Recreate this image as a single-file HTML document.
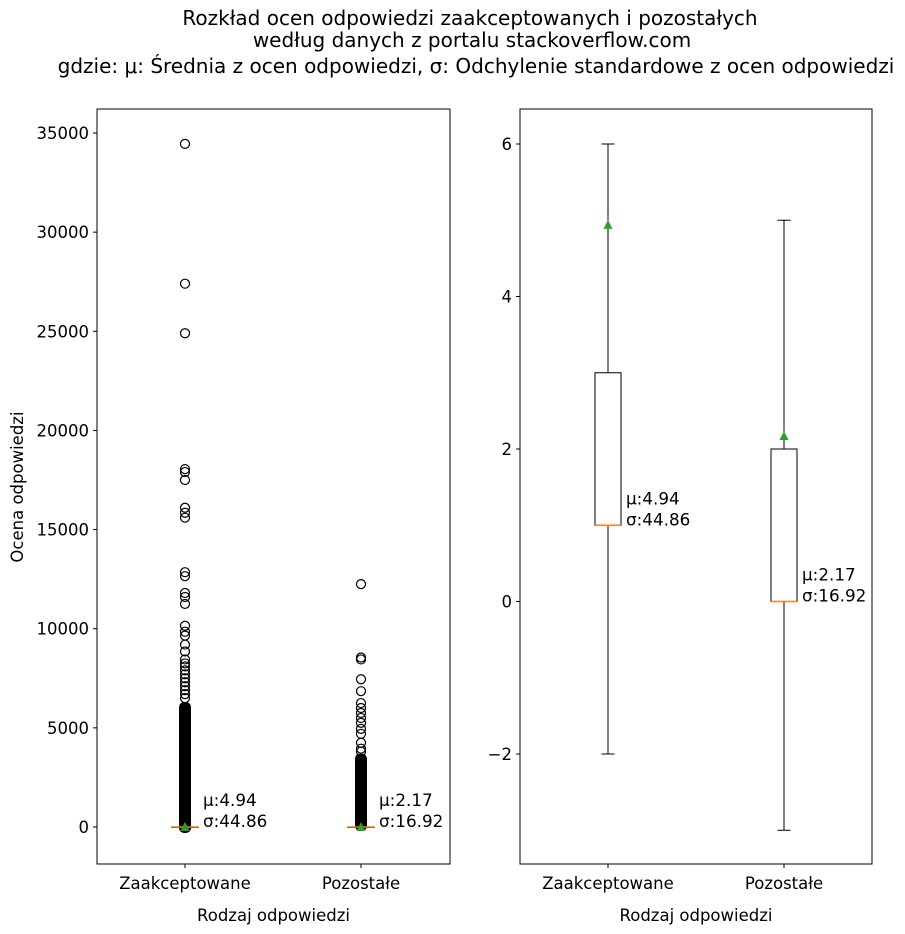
<!DOCTYPE html>
<html><head><meta charset="utf-8"><style>
html,body{margin:0;padding:0;background:#fff;}
svg{display:block;font-family:"DejaVu Sans","Liberation Sans",sans-serif;}
</style></head><body>
<svg id="chart" width="905" height="934" viewBox="0 0 905 934">
<g font-size="20" text-anchor="middle" fill="#000">
<text x="470" y="25">Rozkład ocen odpowiedzi zaakceptowanych i pozostałych</text>
<text x="472" y="47">według danych z portalu stackoverflow.com</text>
<text x="476" y="73">gdzie: μ: Średnia z ocen odpowiedzi, σ: Odchylenie standardowe z ocen odpowiedzi</text>
</g>
</svg>
<script>
const categories = ["Zaakceptowane","Pozostałe"];
const leftTicks = [0,5000,10000,15000,20000,25000,30000,35000];
const rightTicks = [-2,0,2,4,6];
const q1 = [1,0];
const q3 = [3,2];
const medians = [1,0];
const whiskLo = [-2,-3];
const whiskHi = [6,5];
const means = [4.94,2.17];
const stds = [44.86,16.92];
const outliersA = [34450,27400,24900,18050,17900,17500,16100,15850,15600,12850,12650,11800,11600,11250,10150,9850,9650,9200,8850,8450,8250,8100,7900,7700,7500,7300,7100,6900,6700,6500];
const outliersB = [12250,8550,8450,7450,6850,6250,6000,5750,5500,5250,4950,4700,4250,3950,3800];
const denseLo = [-300,-200];
const denseHi = [6300,3700];

const svg = document.getElementById('chart');
const NS = 'http://www.w3.org/2000/svg';
function mk(tag, attrs, parent){const e=document.createElementNS(NS,tag);for(const k in attrs)e.setAttribute(k,attrs[k]);(parent||svg).appendChild(e);return e;}

const L = {x0:97,x1:450,y0:109,y1:864};
const R = {x0:520,x1:872,y0:109,y1:864};
const yL = v => 827 - v*(694/35000);
const yR = v => 601.5 - v*76.25;
const xL = i => [185,361][i];
const xR = i => [608,784][i];

function axes(P, ticks, yf, xf, prefix){
  const g = mk('g',{});
  
  
  const f = mk('rect',{x:P.x0,y:P.y0,width:P.x1-P.x0,height:P.y1-P.y0,fill:'none',stroke:'#000','stroke-width':1},g);
  
  
  ticks.forEach(t=>{
    const y=yf(t);
    mk('line',{x1:P.x0-4,x2:P.x0,y1:y,y2:y,stroke:'#000'},g);
    const tx=mk('text',{x:P.x0-8,y:y+6,'font-size':16.5,'text-anchor':'end'},g);
    tx.textContent = t<0 ? '−'+Math.abs(t) : String(t);
    
    
  });
  categories.forEach((c,i)=>{
    const x=xf(i);
    mk('line',{x1:x,x2:x,y1:P.y1,y2:P.y1+4,stroke:'#000'},g);
    const tx=mk('text',{x:x,y:P.y1+25,'font-size':16.5,'text-anchor':'middle'},g);
    tx.textContent=c;
    
    
  });
  const xt=mk('text',{x:(P.x0+P.x1)/2,y:P.y1+57,'font-size':16.5,'text-anchor':'middle'},g);
  xt.textContent='Rodzaj odpowiedzi';
  
  
  return g;
}

function box(i, yf, xf, prefix, drawOutliers){
  const g=mk('g',{});
  
  
  const x=xf(i), hw=13, cw=6.5;
  if(drawOutliers){
    const dr=mk('rect',{x:x-6,y:yf(denseHi[i]),width:12,height:yf(denseLo[i])-yf(denseHi[i]),fill:'#000',rx:5},g);
    
    
    const arr = i===0?outliersA:outliersB;
    arr.forEach(v=>{
      const c=mk('circle',{cx:x,cy:yf(v),r:4.5,fill:'none',stroke:'#000','stroke-width':1.2},g);
      
      
    });
  }
  mk('line',{x1:x,x2:x,y1:yf(whiskHi[i]),y2:yf(q3[i]),stroke:'#000'},g);
  mk('line',{x1:x,x2:x,y1:yf(q1[i]),y2:yf(whiskLo[i]),stroke:'#000'},g);
  mk('line',{x1:x-cw,x2:x+cw,y1:yf(whiskHi[i]),y2:yf(whiskHi[i]),stroke:'#000'},g);
  mk('line',{x1:x-cw,x2:x+cw,y1:yf(whiskLo[i]),y2:yf(whiskLo[i]),stroke:'#000'},g);
  mk('rect',{x:x-hw,y:yf(q3[i]),width:2*hw,height:Math.max(0.5,yf(q1[i])-yf(q3[i])),fill:'none',stroke:'#000'},g);
  const m=mk('line',{x1:x-hw,x2:x+hw,y1:yf(medians[i]),y2:yf(medians[i]),stroke:'#ff7f0e','stroke-width':1.5},g);
  
  
  const my=yf(means[i]);
  const t=mk('polygon',{points:`${x},${my-5} ${x-4.5},${my+4} ${x+4.5},${my+4}`,fill:'#2ca02c'},g);
  
  
  const ty=yf(medians[i]);
  const a=mk('text',{x:x+18,y:ty-21,'font-size':16.8},g);
  a.textContent='μ:'+means[i].toFixed(2);
  
  
  const b=mk('text',{x:x+18,y:ty,'font-size':16.8},g);
  b.textContent='σ:'+stds[i].toFixed(2);
  
  
}

axes(L,leftTicks,yL,xL,'left');
axes(R,rightTicks,yR,xR,'right');
const yt=mk('text',{x:0,y:0,'font-size':16.5,'text-anchor':'middle',transform:'translate(23,487) rotate(-90)'});
yt.textContent='Ocena odpowiedzi';


categories.forEach((c,i)=>{box(i,yL,xL,'left',true);box(i,yR,xR,'right',false);});
</script>
</body></html>
